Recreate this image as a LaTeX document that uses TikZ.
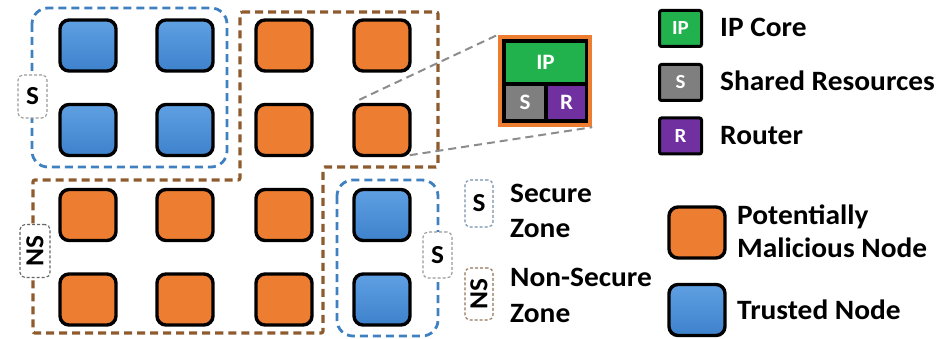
\documentclass[tikz,border=0pt]{standalone}
\usepackage{fontspec}
\setmainfont[FakeStretch=1.05]{Carlito}
\begin{document}
\begin{tikzpicture}[x=1pt,y=-1pt,
  tile/.style={rectangle,draw=black,line width=3.4pt,rounded corners=9pt,
    minimum width=56pt,minimum height=51pt,inner sep=0pt},
  mal/.style={tile,fill=nodeorange},
  trusted/.style={tile,top color=trustlight,bottom color=trustdark},
  zoneS/.style={draw=zoneblue,line width=2.8pt,dash pattern=on 8pt off 5pt,rounded corners=16pt},
  zoneNS/.style={draw=zonebrown,line width=3.2pt,dash pattern=on 8pt off 5pt,rounded corners=2pt},
  tag/.style={rectangle,draw=taggrey,fill=white,line width=1.1pt,dash pattern=on 3pt off 2pt,
    rounded corners=5pt,inner sep=0pt,font=\bfseries\fontsize{26}{26}\selectfont},
  cell/.style={rectangle,inner sep=0pt,text=white,font=\bfseries\fontsize{22}{22}\selectfont},
  keybox/.style={rectangle,draw=black,line width=3pt,rounded corners=2pt,inner sep=0pt,
    minimum width=42pt,minimum height=36pt,text=white,font=\bfseries\fontsize{20}{20}\selectfont},
  keytext/.style={anchor=base west,inner sep=0pt,font=\bfseries\fontsize{28}{28}\selectfont},
  zoomline/.style={draw=linegrey,line width=2pt,dash pattern=on 8pt off 5pt}
]
\definecolor{nodeorange}{HTML}{ED7D31}
\definecolor{trustlight}{HTML}{5FA0E2}
\definecolor{trustdark}{HTML}{3E82CC}
\definecolor{zoneblue}{HTML}{3F80C0}
\definecolor{zonebrown}{HTML}{8E5B2E}
\definecolor{taggrey}{HTML}{9A9A9A}
\definecolor{linegrey}{HTML}{8C8C8C}
\definecolor{ipgreen}{HTML}{21B14D}
\definecolor{sgrey}{HTML}{7F7F7F}
\definecolor{rpurple}{HTML}{7030A0}

\useasboundingbox (0,0) rectangle (952,339);

% zone outlines
\draw[zoneNS] (240,12) -- (438,12) -- (438,167) -- (323,167) -- (323,333)
  -- (33,333) -- (33,180) -- (240,180) -- cycle;
\draw[zoneS] (32,8) rectangle (227,167);
\draw[zoneS] (337,180) rectangle (438,336);

% tiles of the mesh
\node[trusted] (t11) at (88,45.5) {};
\node[trusted] (t12) at (185,45.5) {};
\node[mal] (t13) at (284,45.5) {};
\node[mal] (t14) at (382,45.5) {};
\node[trusted] (t21) at (88,130) {};
\node[trusted] (t22) at (185,130) {};
\node[mal] (t23) at (284,130) {};
\node[mal] (t24) at (382,130) {};
\node[mal] (t31) at (88,215) {};
\node[mal] (t32) at (185,215) {};
\node[mal] (t33) at (284,215) {};
\node[trusted] (t34) at (382,215) {};
\node[mal] (t41) at (88,299.5) {};
\node[mal] (t42) at (185,299.5) {};
\node[mal] (t43) at (284,299.5) {};
\node[trusted] (t44) at (382,299.5) {};

% zone tags
\node[tag,minimum width=29pt,minimum height=43pt] (tagS1) at (32.5,96.5) {S};
\node[tag,minimum width=30pt,minimum height=53pt,draw=gray!80!black] (tagNS) at (35,251) {\rotatebox{90}{NS}};
\node[tag,minimum width=29pt,minimum height=46pt] (tagS2) at (437.5,255) {S};

% enlarged tile
\node[rectangle,fill=nodeorange,minimum width=94pt,minimum height=92pt,inner sep=0pt] (zoom) at (545,81) {};
\fill[black] (502,39) rectangle (588,123);
\node[cell,fill=ipgreen,minimum width=79pt,minimum height=39pt] (ip) at (545.5,62.5) {IP};
\node[cell,fill=sgrey,minimum width=38pt,minimum height=33pt] (sr) at (525,102.5) {S};
\node[cell,fill=rpurple,minimum width=37pt,minimum height=33pt] (rt) at (566.5,102.5) {R};

% magnification lines
\coordinate (za) at ([xshift=7pt,yshift=3pt]t24.north west);
\coordinate (zb) at ([xshift=-2pt,yshift=2pt]t24.south east);
\draw[zoomline] (za) -- (zoom.north west);
\draw[zoomline] (zb) -- (zoom.south east);

% legend
\node[keybox,fill=ipgreen] (kip) at (680.5,28.5) {IP};
\node[keytext] at (720,37) {IP Core};
\node[keybox,fill=sgrey] (ks) at (680.5,82.5) {S};
\node[keytext] at (720,91) {Shared Resources};
\node[keybox,fill=rpurple] (kr) at (680.5,136) {R};
\node[keytext] at (720,145) {Router};

\node[tag,minimum width=28pt,minimum height=47pt,draw=zoneblue!40!taggrey] (kS) at (479,203.5) {S};
\node[keytext] at (510,202) {Secure};
\node[keytext] at (510,237) {Zone};
\node[tag,minimum width=28pt,minimum height=52pt,draw=zonebrown!60!taggrey] (kNS) at (479,294) {\rotatebox{90}{NS}};
\node[keytext] at (510,286) {Non-Secure};
\node[keytext] at (510,322) {Zone};

\node[mal] (kmal) at (697,232.5) {};
\node[keytext] at (737,224) {Potentially};
\node[keytext] at (737,257) {Malicious Node};
\node[trusted] (ktr) at (697,310) {};
\node[keytext] at (737,319) {Trusted Node};
\end{tikzpicture}
\end{document}
